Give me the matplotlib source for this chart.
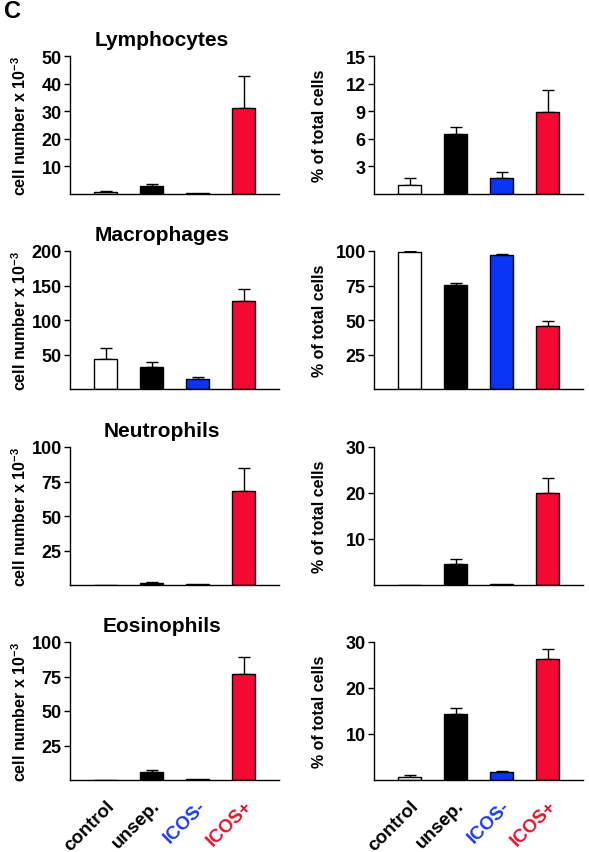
import matplotlib
matplotlib.use("Agg")
import matplotlib.pyplot as plt

plt.rcParams['font.family'] = ['Liberation Sans', 'DejaVu Sans']
plt.rcParams['font.weight'] = 'bold'
plt.rcParams['mathtext.fontset'] = 'custom'
plt.rcParams['mathtext.bf'] = 'Liberation Sans:bold'
plt.rcParams['mathtext.rm'] = 'Liberation Sans:bold'
plt.rcParams['axes.unicode_minus'] = False

groups = ["control", "unsep.", "ICOS-", "ICOS+"]
group_colors = ["black", "black", "#1a3cf0", "#e8102f"]
bar_colors = ["white", "black", "#0a35f5", "#f20a33"]

cell_types = ["Lymphocytes", "Macrophages", "Neutrophils", "Eosinophils"]

# cell number x 10^-3 (mean, upper error)
count_mean = [
    [0.8, 2.8, 0.3, 31.1],
    [42.8, 31.2, 14.4, 127.4],
    [0.0, 1.7, 0.7, 67.8],
    [0.3, 6.0, 0.7, 76.6],
]
count_err = [
    [0.4, 0.8, 0.0, 11.7],
    [16.8, 8.2, 2.9, 17.3],
    [0.0, 0.5, 0.0, 17.2],
    [0.0, 1.5, 0.0, 12.3],
]
count_max = [50, 200, 100, 100]
count_ticks = [[10, 20, 30, 40, 50], [50, 100, 150, 200], [25, 50, 75, 100], [25, 50, 75, 100]]

# % of total cells
pct_mean = [
    [0.97, 6.5, 1.76, 8.88],
    [99.0, 75.1, 96.9, 45.6],
    [0.0, 4.5, 0.15, 20.0],
    [0.58, 14.3, 1.73, 26.2],
]
pct_err = [
    [0.73, 0.8, 0.68, 2.42],
    [0.8, 1.4, 0.7, 3.8],
    [0.0, 1.1, 0.0, 3.2],
    [0.57, 1.4, 0.27, 2.3],
]
pct_max = [15, 100, 30, 30]
pct_ticks = [[3, 6, 9, 12, 15], [25, 50, 75, 100], [10, 20, 30], [10, 20, 30]]

fig = plt.figure(figsize=(5.89, 8.53), dpi=100)
W, H = 589.0, 853.0

row_top = [57, 252, 448, 643]
ax_h = 138


def draw_panel(ax, means, errs, ymax, ticks):
    x = range(len(groups))
    ax.bar(x, means, width=0.5, color=bar_colors, edgecolor="black", linewidth=1.0, zorder=2)
    for xi, m, e in zip(x, means, errs):
        if e > 0:
            ax.errorbar(xi, m, yerr=[[0], [e]], fmt="none", ecolor="black",
                        elinewidth=1.0, capsize=4, capthick=1.0, zorder=1)
    ax.set_xlim(-0.77, 3.76)
    ax.set_ylim(0, ymax)
    ax.set_yticks(ticks)
    ax.tick_params(axis="y", direction="out", length=4, width=1, labelsize=13, pad=2)
    ax.tick_params(axis="x", length=0)
    ax.set_xticks([])
    for s in ["top", "right"]:
        ax.spines[s].set_visible(False)
    for s in ["left", "bottom"]:
        ax.spines[s].set_linewidth(1.0)
    for lab in ax.get_yticklabels():
        lab.set_fontweight("bold")


for i, name in enumerate(cell_types):
    bottom = 1 - (row_top[i] + ax_h) / H
    axl = fig.add_axes([70 / W, bottom, 209 / W, ax_h / H])
    axr = fig.add_axes([374 / W, bottom, 209 / W, ax_h / H])
    draw_panel(axl, count_mean[i], count_err[i], count_max[i], count_ticks[i])
    draw_panel(axr, pct_mean[i], pct_err[i], pct_max[i], pct_ticks[i])
    axl.text(0.44, 1.05, name, transform=axl.transAxes, ha="center", va="bottom",
             fontsize=15, fontweight="bold")
    axl.set_ylabel(r"cell number x 10$^{\mathbf{-3}}$", fontsize=11.5, fontweight="bold")
    axl.yaxis.set_label_coords(-0.195, 0.5)
    axr.set_ylabel("% of total cells", fontsize=11.5, fontweight="bold")
    axr.yaxis.set_label_coords(-0.225, 0.5)
    if i == len(cell_types) - 1:
        for ax in (axl, axr):
            ax.set_xticks(range(len(groups)))
            ax.set_xticklabels(groups, rotation=45, ha="right", rotation_mode="anchor",
                               fontsize=13.5, fontweight="bold")
            for lab, c in zip(ax.get_xticklabels(), group_colors):
                lab.set_color(c)
            ax.tick_params(axis="x", length=0, pad=12)

fig.text(4 / W, 1 - 12 / H, "C", fontsize=17, fontweight="bold", va="center", ha="left")

fig.savefig("out.png", dpi=100)
